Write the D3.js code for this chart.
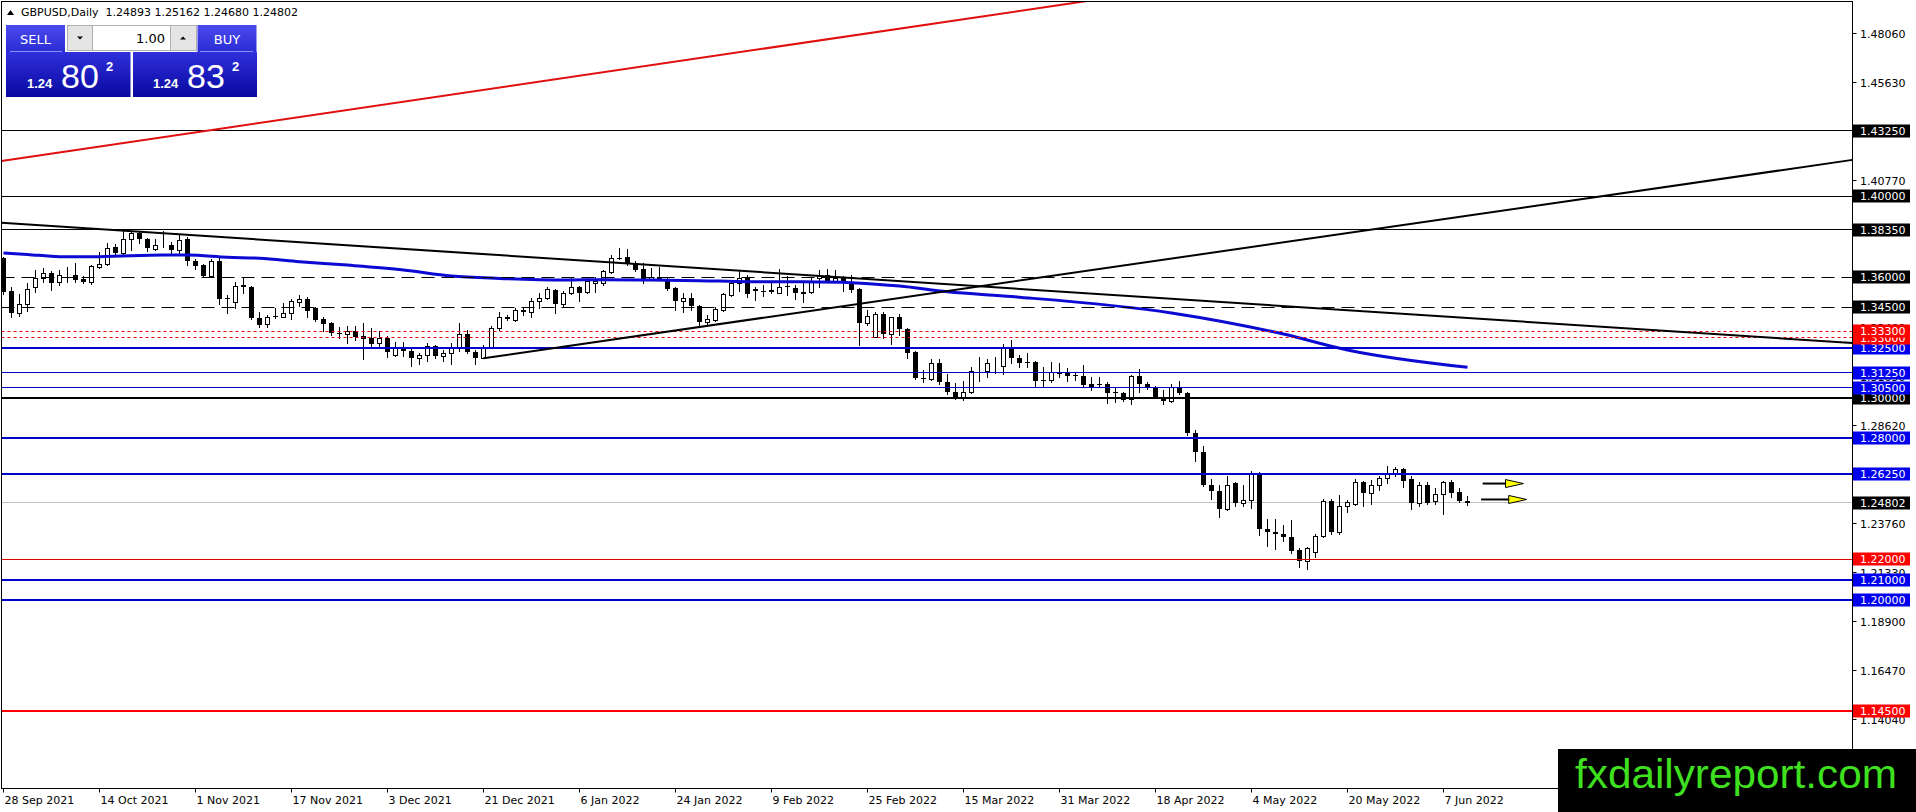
<!DOCTYPE html>
<html>
<head>
<meta charset="utf-8">
<script src="https://cdn.jsdelivr.net/npm/d3@7"></script>
<style>
html, body { margin: 0; padding: 0; background: #fff; overflow: hidden; }
svg { display: block; }
text { font-family: "DejaVu Sans", sans-serif; }
</style>
</head>
<body>
<script>
/* Size of picture and plot frame */
var width = 1916;
var height = 812;
var plotLeft = 1.5, plotTop = 1.5, plotRight = 1852.5, plotBottom = 788.5;

/* Data */
var symbolTitle = "GBPUSD,Daily  1.24893 1.25162 1.24680 1.24802";
var sellPrice = ["1.24", "80", "2"];
var buyPrice = ["1.24", "83", "2"];
var lotSize = "1.00";

var opens = [1.3694,1.3532,1.3420,1.3465,1.3552,1.3597,1.3621,1.3574,1.3603,1.3608,
 1.3592,1.3577,1.3651,1.3663,1.3747,1.3717,1.3787,1.3819,1.3787,1.3737,
 1.3757,1.3758,1.3734,1.3787,1.3679,1.3659,1.3605,1.3679,1.3498,1.3478,
 1.3559,1.3549,1.3395,1.3366,1.3407,1.3403,1.3420,1.3478,1.3491,1.3445,
 1.3392,1.3370,1.3324,1.3316,1.3333,1.3308,1.3296,1.3271,1.3299,1.3214,
 1.3255,1.3235,1.3197,1.3214,1.3260,1.3209,1.3222,1.3255,1.3318,1.3230,
 1.3200,1.3255,1.3346,1.3403,1.3387,1.3436,1.3425,1.3481,1.3494,1.3536,
 1.3466,1.3519,1.3552,1.3524,1.3572,1.3569,1.3626,1.3692,1.3698,1.3668,
 1.3638,1.3590,1.3598,1.3588,1.3544,1.3481,1.3494,1.3456,1.3376,1.3387,
 1.3436,1.3511,1.3569,1.3593,1.3539,1.3533,1.3536,1.3522,1.3555,1.3544,
 1.3519,1.3527,1.3593,1.3610,1.3582,1.3593,1.3569,1.3539,1.3371,1.3304,
 1.3417,1.3318,1.3400,1.3341,1.3230,1.3101,1.3093,1.3172,1.3077,1.3032,
 1.3002,1.3029,1.3133,1.3136,1.3157,1.3158,1.3255,1.3197,1.3179,1.3177,
 1.3090,1.3090,1.3126,1.3128,1.3113,1.3110,1.3070,1.3070,1.3070,1.3029,
 1.3024,1.2994,1.3110,1.3070,1.3052,1.3007,1.2987,1.3057,1.3024,1.2829,
 1.2732,1.2567,1.2540,1.2449,1.2578,1.2482,1.2496,1.2626,1.2352,1.2338,
 1.2327,1.2311,1.2248,1.2193,1.2236,1.2314,1.2491,1.2334,1.2463,1.2474,
 1.2583,1.2529,1.2570,1.2603,1.2627,1.2647,1.2598,1.2479,1.2570,1.2491,
 1.2524,1.2586,1.2532,1.24893];

var highs = [1.3700,1.3549,1.3514,1.3569,1.3635,1.3643,1.3631,1.3635,1.3651,1.3668,
 1.3603,1.3659,1.3725,1.3767,1.3762,1.3829,1.3824,1.3824,1.3791,1.3787,
 1.3828,1.3775,1.3811,1.3797,1.3687,1.3663,1.3687,1.3692,1.3511,1.3574,
 1.3602,1.3555,1.3428,1.3412,1.3445,1.3470,1.3491,1.3511,1.3502,1.3450,
 1.3403,1.3375,1.3354,1.3357,1.3357,1.3371,1.3346,1.3333,1.3308,1.3280,
 1.3280,1.3242,1.3222,1.3271,1.3263,1.3238,1.3271,1.3371,1.3338,1.3238,
 1.3263,1.3357,1.3428,1.3412,1.3445,1.3450,1.3494,1.3519,1.3552,1.3540,
 1.3532,1.3598,1.3555,1.3598,1.3598,1.3635,1.3709,1.3742,1.3739,1.3681,
 1.3668,1.3643,1.3651,1.3593,1.3552,1.3519,1.3519,1.3461,1.3412,1.3450,
 1.3519,1.3585,1.3635,1.3610,1.3552,1.3560,1.3582,1.3638,1.3605,1.3560,
 1.3572,1.3602,1.3635,1.3638,1.3635,1.3605,1.3610,1.3544,1.3436,1.3428,
 1.3428,1.3403,1.3417,1.3346,1.3235,1.3139,1.3192,1.3192,1.3120,1.3073,
 1.3082,1.3153,1.3205,1.3192,1.3205,1.3268,1.3290,1.3214,1.3222,1.3186,
 1.3153,1.3177,1.3172,1.3148,1.3131,1.3164,1.3103,1.3103,1.3077,1.3057,
 1.3032,1.3115,1.3143,1.3077,1.3060,1.3040,1.3070,1.3085,1.3032,1.2839,
 1.2763,1.2598,1.2567,1.2614,1.2586,1.2567,1.2636,1.2631,1.2402,1.2401,
 1.2372,1.2396,1.2256,1.2261,1.2327,1.2499,1.2499,1.2520,1.2496,1.2598,
 1.2591,1.2595,1.2614,1.2664,1.2660,1.2653,1.2614,1.2583,1.2586,1.2553,
 1.2591,1.2595,1.2553,1.25162];

var lows = [1.3516,1.3403,1.3408,1.3432,1.3527,1.3577,1.3536,1.3560,1.3577,1.3577,
 1.3569,1.3565,1.3647,1.3659,1.3712,1.3714,1.3734,1.3770,1.3730,1.3734,
 1.3750,1.3717,1.3717,1.3659,1.3638,1.3599,1.3599,1.3466,1.3420,1.3445,
 1.3519,1.3390,1.3354,1.3351,1.3395,1.3400,1.3390,1.3456,1.3403,1.3384,
 1.3334,1.3313,1.3296,1.3275,1.3288,1.3192,1.3255,1.3255,1.3202,1.3210,
 1.3210,1.3161,1.3169,1.3184,1.3197,1.3186,1.3167,1.3235,1.3225,1.3169,
 1.3197,1.3247,1.3338,1.3387,1.3384,1.3412,1.3403,1.3445,1.3490,1.3423,
 1.3456,1.3516,1.3481,1.3519,1.3527,1.3560,1.3618,1.3687,1.3659,1.3631,
 1.3569,1.3588,1.3585,1.3536,1.3436,1.3428,1.3436,1.3357,1.3362,1.3384,
 1.3432,1.3506,1.3532,1.3499,1.3486,1.3506,1.3519,1.3519,1.3511,1.3490,
 1.3478,1.3522,1.3549,1.3577,1.3577,1.3532,1.3527,1.3263,1.3362,1.3301,
 1.3296,1.3268,1.3313,1.3197,1.3093,1.3077,1.3090,1.3070,1.3020,1.2994,
 1.2991,1.3027,1.3082,1.3106,1.3126,1.3118,1.3172,1.3153,1.3153,1.3062,
 1.3053,1.3078,1.3103,1.3082,1.3087,1.3062,1.3040,1.3053,1.2977,1.2982,
 1.2987,1.2969,1.3029,1.3044,1.2999,1.2971,1.2982,1.3019,1.2817,1.2690,
 1.2565,1.2497,1.2408,1.2446,1.2467,1.2467,1.2454,1.2322,1.2268,1.2253,
 1.2289,1.2234,1.2160,1.2152,1.2212,1.2311,1.2327,1.2327,1.2433,1.2471,
 1.2466,1.2476,1.2545,1.2581,1.2611,1.2558,1.2451,1.2466,1.2476,1.2476,
 1.2425,1.2508,1.2484,1.24680];

var closes = [1.3526,1.3420,1.3465,1.3539,1.3597,1.3620,1.3572,1.3608,1.3606,1.3585,
 1.3577,1.3654,1.3663,1.3742,1.3717,1.3787,1.3816,1.3787,1.3745,1.3758,
 1.3759,1.3734,1.3783,1.3681,1.3656,1.3605,1.3679,1.3490,1.3491,1.3555,
 1.3549,1.3395,1.3362,1.3400,1.3400,1.3420,1.3481,1.3491,1.3433,1.3387,
 1.3367,1.3321,1.3316,1.3333,1.3304,1.3291,1.3268,1.3299,1.3227,1.3255,
 1.3235,1.3197,1.3214,1.3260,1.3210,1.3222,1.3255,1.3318,1.3230,1.3197,
 1.3255,1.3346,1.3400,1.3394,1.3436,1.3428,1.3481,1.3494,1.3541,1.3466,
 1.3519,1.3549,1.3522,1.3582,1.3582,1.3631,1.3692,1.3689,1.3668,1.3635,
 1.3588,1.3602,1.3588,1.3541,1.3481,1.3494,1.3456,1.3376,1.3390,1.3441,
 1.3516,1.3569,1.3593,1.3516,1.3531,1.3531,1.3524,1.3549,1.3552,1.3519,
 1.3527,1.3577,1.3605,1.3582,1.3597,1.3572,1.3536,1.3371,1.3407,1.3417,
 1.3318,1.3400,1.3341,1.3225,1.3098,1.3093,1.3172,1.3077,1.3032,1.3002,
 1.3029,1.3136,1.3136,1.3172,1.3160,1.3254,1.3197,1.3176,1.3176,1.3082,
 1.3085,1.3128,1.3130,1.3110,1.3110,1.3065,1.3057,1.3063,1.3027,1.3026,
 1.2991,1.3110,1.3068,1.3052,1.3004,1.2987,1.3057,1.3024,1.2829,1.2730,
 1.2567,1.2537,1.2449,1.2567,1.2482,1.2496,1.2627,1.2350,1.2334,1.2325,
 1.2311,1.2244,1.2193,1.2256,1.2314,1.2491,1.2334,1.2463,1.2484,1.2583,
 1.2529,1.2570,1.2603,1.2622,1.2647,1.2591,1.2479,1.2570,1.2482,1.2524,
 1.2583,1.2529,1.2491,1.24802];

/* Date labels sit every 12th bar */
var dateLabels = ["28 Sep 2021", "14 Oct 2021", "1 Nov 2021", "17 Nov 2021", "3 Dec 2021",
  "21 Dec 2021", "6 Jan 2022", "24 Jan 2022", "9 Feb 2022", "25 Feb 2022", "15 Mar 2022",
  "31 Mar 2022", "18 Apr 2022", "4 May 2022", "20 May 2022", "7 Jun 2022"];
var dateStep = 12;

var priceTicks = [1.48060, 1.45630, 1.43200, 1.40770, 1.38340, 1.35910, 1.33480, 1.31050,
  1.28620, 1.26190, 1.23760, 1.21330, 1.18900, 1.16470, 1.14040];

/* Moving average read at some bars: [bar, price] */
var maPoints = [[0, 1.3719], [3, 1.3712], [7, 1.3701], [12, 1.3701], [20, 1.3709], [23, 1.3709],
  [28, 1.3698], [32, 1.3693], [37, 1.3676], [43, 1.3659], [50, 1.3635], [56, 1.3605],
  [62, 1.3593], [70, 1.3585], [75, 1.3587], [81, 1.3585], [87, 1.3582], [93, 1.3577],
  [100, 1.3576], [106, 1.3572], [112, 1.3555], [118, 1.3527], [126, 1.3503], [146, 1.3422],
  [160, 1.3317], [168, 1.3238], [183, 1.3152]];

/* Horizontal levels and their kind */
var levelPrices = [1.4325, 1.4000, 1.3835, 1.3600, 1.3450, 1.3330, 1.3300, 1.3250, 1.3125,
  1.3050, 1.3000, 1.2800, 1.2625, 1.2200, 1.2100, 1.2000, 1.1450];
var levelKinds = ["black", "black", "black", "dash", "dash", "dot", "dot", "blueBold", "blue",
  "blue", "blackBold", "blueBold", "blueBold", "red", "blueBold", "blueBold", "redBold"];
var bidPrice = 1.24802;

/* Trend lines: anchors as [bar, price] */
var trendStarts = [[0, 1.4177], [0, 1.3868], [60, 1.3197]];
var trendEnds = [[134, 1.4960], [231, 1.3273], [231, 1.4180]];
var trendKinds = ["red", "black", "black"];
var trendFromLeft = [true, true, false];

/* Arrows: price, start bar, tip bar */
var arrowPrices = [1.2576, 1.2497];
var arrowStarts = [184.9, 184.7];
var arrowTips = [190.0, 190.4];

/* Styles */
var lineStyles = {
  black: {color: "#000", w: 1, dash: null},
  blackBold: {color: "#000", w: 2, dash: null},
  dash: {color: "#000", w: 1, dash: "13,7"},
  dot: {color: "#e00000", w: 1, dash: "3,3"},
  blue: {color: "#0000cd", w: 1, dash: null},
  blueBold: {color: "#0000cd", w: 2, dash: null},
  red: {color: "#e00000", w: 1, dash: null},
  redBold: {color: "#ff0000", w: 2, dash: null}
};
var labelFill = {black: "#000", blackBold: "#000", dash: "#000", dot: "#ff0000", blue: "#0000ee",
  blueBold: "#0000ee", red: "#ff0000", redBold: "#ff0000"};

/* Scales */
var x = d3.scaleLinear().domain([0, 231]).range([3.5, 1851.5]);
var y = d3.scaleLinear().domain([1.49634, 1.10666]).range([2, 788]);

function crisp(v, w) {
  return w % 2 === 1 ? Math.floor(v) + 0.5 : Math.round(v);
}

var svg = d3.select("body").append("svg")
  .attr("width", width)
  .attr("height", height);

var defs = svg.append("defs");
defs.append("clipPath").attr("id", "plot")
  .append("rect")
  .attr("x", plotLeft).attr("y", plotTop)
  .attr("width", plotRight - plotLeft).attr("height", plotBottom - plotTop);

function gradient(id, top, bottom) {
  var g = defs.append("linearGradient").attr("id", id)
    .attr("x1", 0).attr("y1", 0).attr("x2", 0).attr("y2", 1);
  g.append("stop").attr("offset", "0%").attr("stop-color", top);
  g.append("stop").attr("offset", "100%").attr("stop-color", bottom);
}
gradient("btn", "#4a4aec", "#2c2cd6");
gradient("box", "#3030dc", "#0808a0");

svg.append("rect").attr("width", width).attr("height", height).attr("fill", "#fff");

var plot = svg.append("g").attr("clip-path", "url(#plot)");

/* Bid line goes behind the bars */
plot.append("line")
  .attr("x1", plotLeft).attr("x2", plotRight)
  .attr("y1", crisp(y(bidPrice), 1)).attr("y2", crisp(y(bidPrice), 1))
  .attr("stroke", "#c0c0c0").attr("stroke-width", 1);

/* Candles */
var bars = d3.range(opens.length);
var candle = plot.selectAll(".candle")
  .data(bars)
  .enter()
  .append("g")
  .attr("class", "candle");

candle.append("line")
  .attr("x1", function(i) { return x(i); })
  .attr("x2", function(i) { return x(i); })
  .attr("y1", function(i) { return Math.round(y(highs[i])); })
  .attr("y2", function(i) { return Math.round(y(lows[i])) + 1; })
  .attr("stroke", "#000")
  .attr("stroke-width", 1);

candle.append("rect")
  .attr("x", function(i) { return closes[i] < opens[i] ? x(i) - 2.5 : x(i) - 2; })
  .attr("width", function(i) { return closes[i] < opens[i] ? 5 : 4; })
  .attr("y", function(i) {
    var top = Math.round(y(Math.max(opens[i], closes[i])));
    return closes[i] < opens[i] ? top : top + 0.5;
  })
  .attr("height", function(i) {
    var top = Math.round(y(Math.max(opens[i], closes[i])));
    var bottom = Math.round(y(Math.min(opens[i], closes[i])));
    return closes[i] < opens[i] ? Math.max(1, bottom - top) : Math.max(0, bottom - top);
  })
  .attr("fill", function(i) { return closes[i] < opens[i] ? "#000" : "#fff"; })
  .attr("stroke", function(i) { return closes[i] < opens[i] ? "none" : "#000"; })
  .attr("stroke-width", 1);

/* Moving average */
plot.append("path")
  .datum(maPoints)
  .attr("d", d3.line()
    .x(function(d) { return x(d[0]); })
    .y(function(d) { return y(d[1]); })
    .curve(d3.curveMonotoneX))
  .attr("fill", "none")
  .attr("stroke", "#0a0ad2")
  .attr("stroke-width", 3);

/* Horizontal levels */
levelPrices.forEach(function(p, k) {
  var st = lineStyles[levelKinds[k]];
  var yy = crisp(y(p), st.w);
  plot.append("line")
    .attr("x1", plotLeft).attr("x2", plotRight)
    .attr("y1", yy).attr("y2", yy)
    .attr("stroke", st.color)
    .attr("stroke-width", st.w)
    .attr("stroke-dasharray", st.dash);
});

/* Trend lines, extended to the right edge */
trendStarts.forEach(function(a, k) {
  var b = trendEnds[k];
  var slope = (b[1] - a[1]) / (b[0] - a[0]);
  var x0 = trendFromLeft[k] ? x.invert(plotLeft) : a[0];
  var x1 = x.invert(plotRight);
  var st = trendKinds[k] === "red" ? "#e01010" : "#000";
  plot.append("line")
    .attr("x1", x(x0)).attr("y1", y(a[1] + slope * (x0 - a[0])))
    .attr("x2", x(x1)).attr("y2", y(a[1] + slope * (x1 - a[0])))
    .attr("stroke", st)
    .attr("stroke-width", 2);
});

/* Arrows */
arrowPrices.forEach(function(p, k) {
  var yy = y(p);
  var tip = x(arrowTips[k]);
  var base = tip - 18;
  plot.append("line")
    .attr("x1", x(arrowStarts[k])).attr("x2", base)
    .attr("y1", yy).attr("y2", yy)
    .attr("stroke", "#000").attr("stroke-width", 2);
  plot.append("path")
    .attr("d", "M" + base + "," + (yy - 4) + " L" + tip + "," + yy + " L" + base + "," + (yy + 4) + " Z")
    .attr("fill", "#ffff00")
    .attr("stroke", "#000")
    .attr("stroke-width", 1);
});

/* Frame */
svg.append("rect")
  .attr("x", plotLeft).attr("y", plotTop)
  .attr("width", plotRight - plotLeft).attr("height", plotBottom - plotTop)
  .attr("fill", "none").attr("stroke", "#000").attr("stroke-width", 1);

/* Price axis ticks */
var axisG = svg.append("g");
priceTicks.forEach(function(p) {
  var yy = crisp(y(p), 1);
  axisG.append("line")
    .attr("x1", plotRight).attr("x2", plotRight + 4)
    .attr("y1", yy).attr("y2", yy)
    .attr("stroke", "#000");
  axisG.append("text")
    .attr("x", 1860).attr("y", yy + 4)
    .attr("font-size", 11)
    .attr("fill", "#000")
    .text(p.toFixed(5));
});

/* Level labels, lower prices first so higher ones are drawn on top */
var labelOrder = d3.range(levelPrices.length).sort(function(a, b) {
  return levelPrices[a] - levelPrices[b];
});
function priceLabel(p, fill) {
  var yy = Math.round(y(p));
  axisG.append("rect")
    .attr("x", 1853).attr("y", yy - 6.5)
    .attr("width", 57).attr("height", 13)
    .attr("fill", fill);
  axisG.append("text")
    .attr("x", 1860).attr("y", yy + 4)
    .attr("font-size", 11)
    .attr("fill", "#fff")
    .text(p.toFixed(5));
}
labelOrder.forEach(function(k) {
  priceLabel(levelPrices[k], labelFill[levelKinds[k]]);
});
priceLabel(bidPrice, "#000");

/* Date axis */
dateLabels.forEach(function(label, k) {
  var xx = x(k * dateStep);
  axisG.append("line")
    .attr("x1", xx).attr("x2", xx)
    .attr("y1", plotBottom).attr("y2", plotBottom + 4)
    .attr("stroke", "#000");
  axisG.append("text")
    .attr("x", xx + 1).attr("y", 804)
    .attr("font-size", 11)
    .attr("fill", "#000")
    .text(label);
});

/* Title */
svg.append("path").attr("d", "M7,15 L14,15 L10.5,10 Z").attr("fill", "#000");
svg.append("text")
  .attr("x", 21).attr("y", 16)
  .attr("font-size", 11)
  .attr("fill", "#000")
  .attr("xml:space", "preserve")
  .style("white-space", "pre")
  .text(symbolTitle);

/* One click trading panel */
var panel = svg.append("g");
panel.append("rect").attr("x", 6).attr("y", 25).attr("width", 59).attr("height", 27).attr("fill", "url(#btn)");
panel.append("rect").attr("x", 197.5).attr("y", 25).attr("width", 59).attr("height", 27).attr("fill", "url(#btn)");
panel.append("rect").attr("x", 6).attr("y", 52).attr("width", 124.5).attr("height", 45).attr("fill", "url(#box)");
panel.append("rect").attr("x", 133).attr("y", 52).attr("width", 124).attr("height", 45).attr("fill", "url(#box)");
panel.append("line").attr("x1", 10).attr("x2", 62).attr("y1", 51.5).attr("y2", 51.5).attr("stroke", "#8c8cf5");
panel.append("line").attr("x1", 200).attr("x2", 253).attr("y1", 51.5).attr("y2", 51.5).attr("stroke", "#8c8cf5");

panel.append("rect").attr("x", 67.5).attr("y", 25.5).attr("width", 25).attr("height", 25)
  .attr("fill", "#e4e4e4").attr("stroke", "#b0b0b0");
panel.append("rect").attr("x", 92.5).attr("y", 25.5).attr("width", 78).attr("height", 25)
  .attr("fill", "#fff").attr("stroke", "#b0b0b0");
panel.append("rect").attr("x", 170.5).attr("y", 25.5).attr("width", 26).attr("height", 25)
  .attr("fill", "#e4e4e4").attr("stroke", "#b0b0b0");
panel.append("path").attr("d", "M77,36.5 L83,36.5 L80,39.5 Z").attr("fill", "#000");
panel.append("path").attr("d", "M180,39.5 L186,39.5 L183,36.5 Z").attr("fill", "#000");
panel.append("text").attr("x", 165).attr("y", 43).attr("text-anchor", "end")
  .attr("font-size", 13).attr("fill", "#000").text(lotSize);

panel.append("text").attr("x", 35.5).attr("y", 44).attr("text-anchor", "middle")
  .attr("font-size", 13).attr("fill", "#fff").text("SELL");
panel.append("text").attr("x", 227).attr("y", 44).attr("text-anchor", "middle")
  .attr("font-size", 13).attr("fill", "#fff").text("BUY");

function bigPrice(parts, x0) {
  panel.append("text").attr("x", x0).attr("y", 88)
    .style("font-family", "Liberation Sans, Arial, sans-serif")
    .attr("font-size", 13).attr("font-weight", "bold").attr("fill", "#fff").text(parts[0]);
  panel.append("text").attr("x", x0 + 34).attr("y", 88)
    .style("font-family", "Liberation Sans, Arial, sans-serif")
    .attr("font-size", 34).attr("fill", "#fff").text(parts[1]);
  panel.append("text").attr("x", x0 + 79).attr("y", 71)
    .style("font-family", "Liberation Sans, Arial, sans-serif")
    .attr("font-size", 13).attr("font-weight", "bold").attr("fill", "#fff").text(parts[2]);
}
bigPrice(sellPrice, 27);
bigPrice(buyPrice, 153);

/* Watermark */
svg.append("rect").attr("x", 1558).attr("y", 749).attr("width", width - 1558).attr("height", height - 749)
  .attr("fill", "#000");
svg.append("text")
  .attr("x", 1575).attr("y", 788)
  .style("font-family", "Liberation Sans, Arial, sans-serif")
  .attr("font-size", 40)
  .attr("textLength", 322)
  .attr("lengthAdjust", "spacingAndGlyphs")
  .attr("fill", "#3ee01f")
  .text("fxdailyreport.com");
</script>
</body>
</html>
